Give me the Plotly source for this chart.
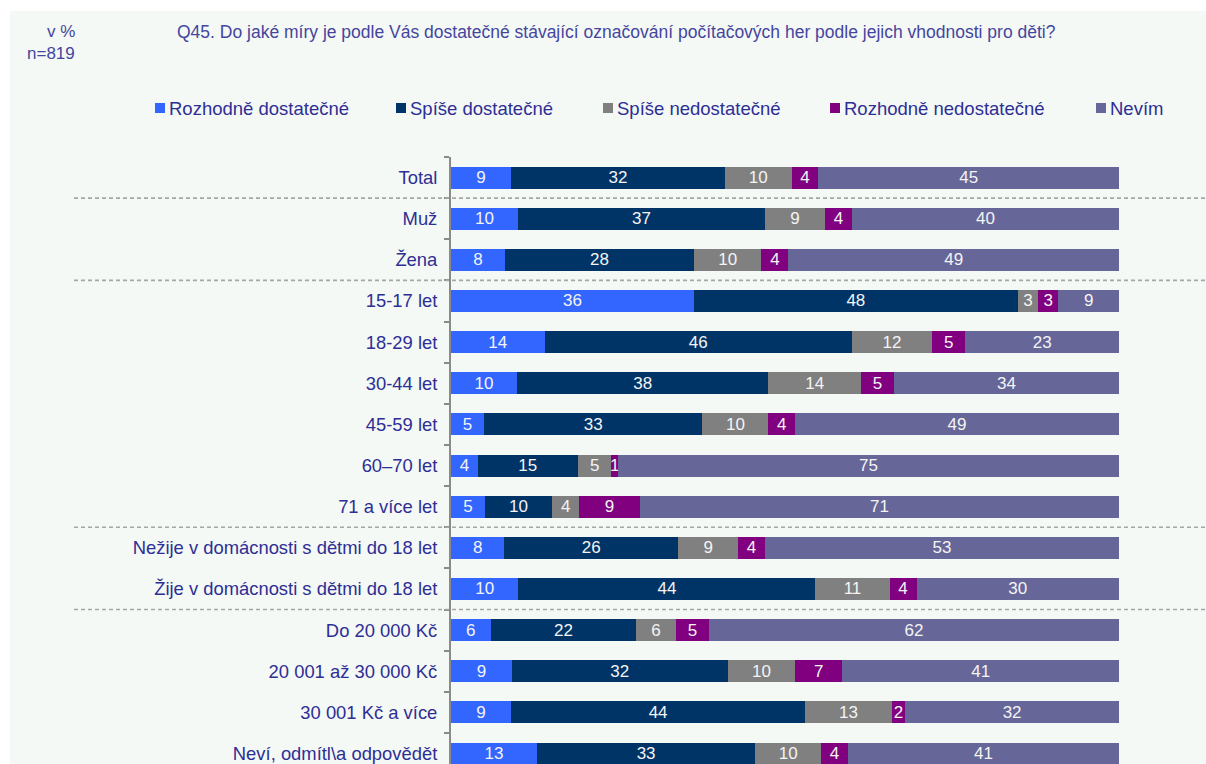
import plotly.graph_objects as go

# Survey breakdown (values in %)
categories = [
    "Total", "Muž", "Žena",
    "15-17 let", "18-29 let", "30-44 let", "45-59 let", "60–70 let", "71 a více let",
    "Nežije v domácnosti s dětmi do 18 let", "Žije v domácnosti s dětmi do 18 let",
    "Do 20 000 Kč", "20 001 až 30 000 Kč", "30 001 Kč a více", "Neví, odmítl\\a odpovědět",
]
series_names = ["Rozhodně dostatečné", "Spíše dostatečné", "Spíše nedostatečné",
                "Rozhodně nedostatečné", "Nevím"]
rozhodne_dostatecne = [9, 10, 8, 36, 14, 10, 5, 4, 5, 8, 10, 6, 9, 9, 13]
spise_dostatecne = [32, 37, 28, 48, 46, 38, 33, 15, 10, 26, 44, 22, 32, 44, 33]
spise_nedostatecne = [10, 9, 10, 3, 12, 14, 10, 5, 4, 9, 11, 6, 10, 13, 10]
rozhodne_nedostatecne = [4, 4, 4, 3, 5, 5, 4, 1, 9, 4, 4, 5, 7, 2, 4]
nevim = [45, 40, 49, 9, 23, 34, 49, 75, 71, 53, 30, 62, 41, 32, 41]
# rows after which a dashed group separator is drawn
group_breaks = [0, 2, 8, 10]

colors = ["#3366FF", "#003366", "#808080", "#800080", "#666699"]
series_values = [rozhodne_dostatecne, spise_dostatecne, spise_nedostatecne,
                 rozhodne_nedostatecne, nevim]

W, H = 1206, 764
ML, MR, MT, MB = 451, 87, 157, 0
ROW = 41.14
BG = "#f4f9f6"
TXT = "#2e2e94"
FONT = "Liberation Sans, Arial, sans-serif"


def px_x(px):
    return (px - ML) / (W - ML - MR)


def px_y(py):
    return 1 - (py - MT) / (H - MT - MB)


fig = go.Figure()
for name, vals, col in zip(series_names, series_values, colors):
    fig.add_trace(go.Bar(
        y=categories, x=vals, name=name, orientation="h",
        marker=dict(color=col, line=dict(width=0)),
        text=vals, texttemplate="%{text}", textposition="inside",
        insidetextanchor="middle", textangle=0,
        textfont=dict(family=FONT, size=17, color="#f4f4f4"),
        width=0.535, showlegend=False,
    ))

shapes = [
    dict(type="rect", xref="paper", yref="paper", layer="below",
         x0=px_x(10), x1=px_x(W + 5), y0=px_y(H + 5), y1=px_y(11),
         fillcolor=BG, line=dict(width=0)),
]
for b in group_breaks:
    shapes.append(dict(type="line", xref="paper", yref="y",
                       x0=px_x(74), x1=px_x(W), y0=b + 0.5, y1=b + 0.5,
                       line=dict(color="#a6a6a6", width=1.6, dash="4px,3px")))

annotations = [
    dict(text="Q45. Do jaké míry je podle Vás dostatečné stávající označování počítačových her podle jejich vhodnosti pro děti?",
         xref="paper", yref="paper", x=px_x(175), y=px_y(32), xanchor="left", yanchor="middle",
         showarrow=False, font=dict(family=FONT, size=17.5, color="#45459e")),
    dict(text="v %", xref="paper", yref="paper", x=px_x(77), y=px_y(32),
         xanchor="right", yanchor="middle", showarrow=False,
         font=dict(family=FONT, size=17, color="#45459e")),
    dict(text="n=819", xref="paper", yref="paper", x=px_x(77), y=px_y(53),
         xanchor="right", yanchor="middle", showarrow=False,
         font=dict(family=FONT, size=17, color="#45459e")),
]

# legend row
legend_left = [155, 396, 603, 830, 1096]
for name, col, lx in zip(series_names, colors, legend_left):
    shapes.append(dict(type="rect", xref="paper", yref="paper",
                       x0=px_x(lx), x1=px_x(lx + 10), y0=px_y(113), y1=px_y(103),
                       fillcolor=col, line=dict(width=0)))
    annotations.append(dict(text=name, xref="paper", yref="paper",
                            x=px_x(lx + 12), y=px_y(108), xanchor="left", yanchor="middle",
                            showarrow=False, font=dict(family=FONT, size=18.5, color=TXT)))

plot_rows = (H - MT - MB) / ROW
fig.update_layout(
    width=W, height=H,
    margin=dict(l=ML, r=MR, t=MT, b=MB, pad=0),
    barmode="stack", barnorm="percent",
    paper_bgcolor="white", plot_bgcolor=BG,
    uniformtext=dict(minsize=17, mode="show"),
    shapes=shapes, annotations=annotations,
    xaxis=dict(range=[0, 100], visible=False, showgrid=False, zeroline=False, fixedrange=True),
    yaxis=dict(
        type="category", range=[-0.5 + plot_rows, -0.5],
        showline=True, linecolor="#8a8a8a", linewidth=2,
        ticks="outside", tickson="boundaries", ticklen=5, tickwidth=1.5, tickcolor="#8a8a8a",
        ticklabelstandoff=8,
        tickfont=dict(family=FONT, size=18.4, color=TXT),
        showgrid=False, zeroline=False,
    ),
    font=dict(family=FONT),
)

fig.write_html("out.html")
